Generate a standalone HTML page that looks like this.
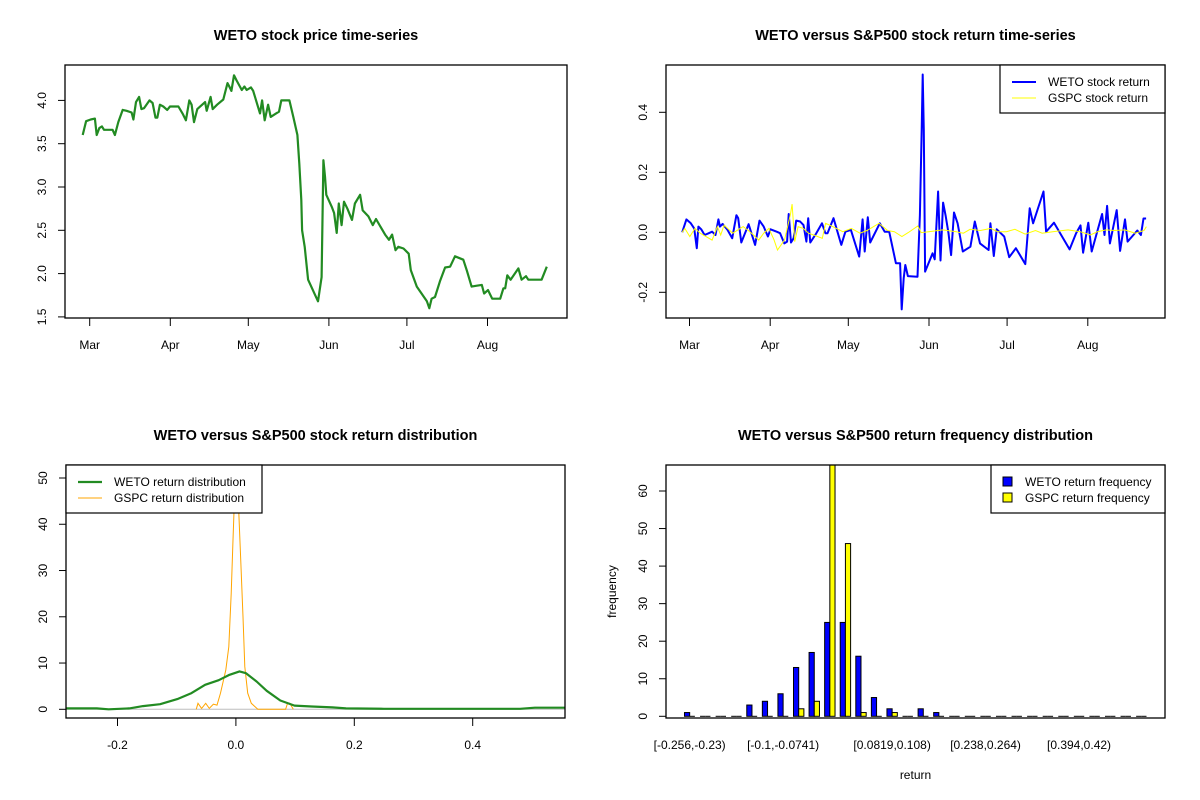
<!DOCTYPE html>
<html><head><meta charset="utf-8"><style>
html,body{margin:0;padding:0;background:#fff;}
svg{display:block;font-family:"Liberation Sans",Arial,sans-serif;}
</style></head><body>
<svg id="c" width="1200" height="800" xmlns="http://www.w3.org/2000/svg">
<rect x="0" y="0" width="1200" height="800" fill="#fff"/>
</svg>
<script>
// ---- data: price series (day offset from Mar 1) ----
const priceDays=[-2.7,-1.4,0.4,2,2.7,3.7,4.7,5.5,8.8,9.7,11,12.7,14.2,16.1,16.8,17.8,19,19.9,20.9,23,24.2,25.3,26,27,28.3,29.8,30.9,34.1,35.7,37,38.3,39.2,40.1,41.4,44.4,45,46.5,47.3,49,51.4,53,53.7,54.5,55.5,56.5,58.5,59.5,60.4,62,62.9,65.5,66.3,67.3,68.6,69.6,71.7,72.8,73.7,76.8,78.3,79.9,80.6,81.4,81.7,82.7,84,87.8,89.2,89.9,90.5,91,93.1,94,95,95.8,96.9,97.8,99.1,100.9,102,104,105,107.2,108.9,110.1,113.6,115.1,116.3,117.6,118.7,120.7,122.7,123.5,125.8,129.7,130.6,131.5,132.8,134.7,136.7,138.6,140.5,143.7,145,146.9,148.9,150.8,151.7,153.2,154.8,157.9,159.1,159.8,160.6,161.9,164.9,166.1,167.8,168.7,173.8,175.8];
const priceVals=[3.60,3.76,3.78,3.79,3.60,3.68,3.70,3.66,3.66,3.60,3.75,3.89,3.88,3.86,3.78,3.98,4.04,3.90,3.91,4.00,3.97,3.80,3.80,3.95,3.93,3.89,3.93,3.93,3.85,3.77,4.00,3.95,3.75,3.90,3.98,3.88,4.04,3.90,3.95,4.01,4.20,4.16,4.11,4.29,4.23,4.12,4.16,4.12,4.15,4.11,3.85,4.00,3.77,3.95,3.81,3.85,3.87,4.00,4.00,3.81,3.60,3.27,2.85,2.50,2.31,1.93,1.68,1.96,3.31,3.12,2.91,2.77,2.70,2.47,2.81,2.56,2.83,2.75,2.62,2.81,2.91,2.73,2.66,2.56,2.63,2.45,2.39,2.45,2.27,2.31,2.29,2.23,2.04,1.85,1.68,1.60,1.71,1.73,1.91,2.07,2.08,2.20,2.16,2.04,1.85,1.86,1.87,1.77,1.81,1.71,1.71,1.83,1.83,1.98,1.93,2.06,1.93,1.97,1.93,1.93,2.08];
// ---- data: returns ----
const retDays=[-2.8,-1.2,0.5,1.8,2.8,3.4,4.5,5.8,7.4,8.7,10,11.1,11.7,12.7,14.6,16.4,18,18.7,19.9,22.7,25.2,26.9,28.5,30.1,31.1,33.5,34.8,36.4,37.5,38.1,39,40,41,42.5,43.8,44.9,45.6,46.4,48.5,50.9,52.2,53,55.3,58.3,59.9,62,65.2,66.5,67.3,68.5,69.4,73.1,75,76.7,79.3,80.9,81.5,82.3,82.9,83.9,87.6,88.5,89.2,89.6,90,90.5,93.4,94.2,95.5,96.4,97.4,98.4,99.5,100.5,101.6,103,105,107.9,109.6,111.6,114.9,115.6,116.9,118,120.9,122.8,125.4,129,130.7,132,136,137,140,146,148.5,150.2,151.2,153.2,154.5,158.5,159.4,160.4,161.5,164.1,165.4,167.3,168.3,172,173.4,174.4,175.4];
const wetoRet=[0,0.043,0.03,0.013,-0.053,0.019,0.01,-0.009,-0.003,0.002,-0.009,0.043,0.019,0.028,0.008,-0.02,0.057,0.047,-0.034,0.027,-0.042,0.039,0.019,-0.014,0.01,0.002,-0.003,-0.037,-0.031,0.061,-0.034,-0.02,0.039,0.036,0.024,-0.031,0.047,-0.034,-0.006,0.03,-0.003,-0.003,0.047,-0.042,0.002,0.008,-0.081,0.043,-0.064,0.05,-0.034,0.03,0.002,0.002,-0.103,-0.103,-0.257,-0.153,-0.109,-0.146,-0.148,0.058,0.343,0.526,0.341,-0.131,-0.07,-0.09,0.136,-0.094,0.099,0.054,-0.003,-0.076,0.066,0.03,-0.064,-0.048,0.036,-0.037,-0.059,0.03,-0.079,0.01,-0.014,-0.083,-0.053,-0.106,0.08,0.03,0.136,0.002,0.032,-0.057,-0.003,0.023,-0.068,0.032,-0.064,0.061,-0.009,0.088,-0.037,0.074,-0.062,0.043,-0.031,0.006,-0.009,0.046,0.046];
const gspcDays=[-2.8,-1.8,0.1,2.1,4.1,8.7,10.7,12,13.3,16.6,20.6,22.6,24.6,26.6,28.5,30.5,32.5,33.8,36.5,38.8,39.4,40.4,41.7,43.7,45.7,47.7,51,52.3,55,58.9,62.2,65.5,68.2,72.8,76.1,78.7,81.6,84,87.7,89,91.9,97.2,102.5,105.2,107.8,111.8,115.7,118.4,121.7,125,128.9,132.9,135.5,139.5,145.4,150.1,154,156.7,160,163.3,167.2,171.2,174.6,175.5];
const gspcRet=[0,0.013,-0.014,0.013,-0.003,-0.026,0.019,-0.009,0.024,-0.003,0.019,0.006,-0.009,-0.026,-0.003,0.013,-0.026,-0.059,-0.026,0.061,0.094,-0.031,0.019,0.013,-0.003,-0.009,-0.02,0.03,0.019,0.002,0.013,-0.003,0.006,0.03,0.006,0.002,-0.014,-0.001,0.021,-0.001,0.002,0.008,0.002,-0.003,0.01,0.006,0.013,0.002,0.002,0.01,-0.006,0.006,-0.003,0.002,0.008,0.002,-0.009,0.002,0.008,0.006,0.008,-0.003,0.006,0.019];
// ---- data: densities ----
const wetoDensX=[-0.287,-0.281,-0.235,-0.215,-0.18,-0.157,-0.128,-0.099,-0.075,-0.052,-0.029,-0.012,0.006,0.017,0.035,0.052,0.075,0.099,0.128,0.163,0.186,0.25,0.48,0.505,0.556];
const wetoDensY=[0.2,0.2,0.2,0,0.2,0.7,1.1,2.2,3.5,5.3,6.3,7.4,8.2,7.8,6.0,4.0,1.9,0.8,0.6,0.4,0.2,0.1,0.1,0.35,0.35];
const gspcDensX=[-0.067,-0.064,-0.058,-0.051,-0.045,-0.038,-0.032,-0.026,-0.017,-0.012,-0.008,-0.005,-0.002,0,0.003,0.005,0.008,0.012,0.015,0.02,0.026,0.032,0.037,0.084,0.087,0.091,0.097];
const gspcDensY=[0,1.3,0.2,1.3,0.2,1.1,0.9,3.5,8.5,13.5,25,36,47,56,56,42,33,20,9.2,3.5,1.3,0.6,0,0,1.2,1.3,0];
// ---- data: histogram ----
const binLabels=["[-0.256,-0.23)","[-0.1,-0.0741)","[0.0819,0.108)","[0.238,0.264)","[0.394,0.42)"];
const binLabelIdx=[0,6,13,19,25];
const wetoFreq=[1,0,0,0,3,4,6,13,17,25,25,16,5,2,0,2,1,0,0,0,0,0,0,0,0,0,0,0,0,0];
const gspcFreq=[0,0,0,0,0,0,0,2,4,70,46,1,0,1,0,0,0,0,0,0,0,0,0,0,0,0,0,0,0,0];
// ---- ticks ----
const monthNames=["Mar","Apr","May","Jun","Jul","Aug"];
const monthDays=[0,31,61,92,122,153];
const priceTicks=[1.5,2.0,2.5,3.0,3.5,4.0];
const retTicks=[-0.2,0.0,0.2,0.4];
const densXTicks=[-0.2,0.0,0.2,0.4];
const densYTicks=[0,10,20,30,40,50];
const freqTicks=[0,10,20,30,40,50,60];

const svg=document.getElementById('c');
const NS='http://www.w3.org/2000/svg';
function mk(tag,a,parent){const e=document.createElementNS(NS,tag);for(const k in a)e.setAttribute(k,a[k]);(parent||svg).appendChild(e);return e;}
function lin(d0,d1,r0,r1){return v=>r0+(v-d0)*(r1-r0)/(d1-d0);}
function fmt(v){return v.toFixed(1);}

function panel(p){
  const g=mk('g',{});
  
  
  const t=mk('text',{x:(p.x0+p.x1)/2,y:p.ty,'text-anchor':'middle','font-size':'14.5','font-weight':'bold',fill:'#000'},g);
  t.textContent=p.title;
  
  
  return g;
}
function frame(g,x0,y0,x1,y1){
  const r=mk('rect',{x:x0,y:y0,width:x1-x0,height:y1-y0,fill:'none',stroke:'#000','stroke-width':1.3},g);
  
  
}
function yAxis(g,ticks,sy,x0,labelFn){
  ticks.forEach(v=>{
    const y=sy(v);
    const l=mk('line',{x1:x0-7,x2:x0,y1:y,y2:y,stroke:'#000'},g);
    
    
    const t=mk('text',{x:0,y:0,transform:`translate(${x0-19},${y}) rotate(-90)`,'text-anchor':'middle','font-size':'12',fill:'#000'},g);
    t.textContent=labelFn(v);
    
    
  });
}
function xAxis(g,pos,labels,y1){
  pos.forEach((x,i)=>{
    const l=mk('line',{x1:x,x2:x,y1:y1,y2:y1+8,stroke:'#000'},g);
    
    
    const t=mk('text',{x:x,y:y1+31,'text-anchor':'middle','font-size':'12',fill:'#000'},g);
    t.textContent=labels[i];
    
    
  });
}
function clip(id,x0,y0,x1,y1){const c=mk('clipPath',{id:id});mk('rect',{x:x0,y:y0,width:x1-x0,height:y1-y0},c);}
function poly(g,xs,ys,sx,sy,attrs,name,cl){
  const pts=xs.map((x,i)=>sx(x).toFixed(1)+','+sy(ys[i]).toFixed(1)).join(' ');
  const a=Object.assign({points:pts,fill:'none'},attrs);
  if(cl)a['clip-path']=`url(#${cl})`;
  const p=mk('polyline',a,g);
  
  
}
function legend(g,x0,y0,x1,y1,items){
  const r=mk('rect',{x:x0,y:y0,width:x1-x0,height:y1-y0,fill:'#fff',stroke:'#000','stroke-width':1.2},g);
  
  
  items.forEach((it,i)=>{
    const y=y0+17+i*16;
    if(it.sq){
      const s=mk('rect',{x:x0+12,y:y-5,width:9,height:9,fill:it.color,stroke:'#000'},g);
      
      
    }else{
      const l=mk('line',{x1:x0+12,x2:x0+36,y1:y,y2:y,stroke:it.color,'stroke-width':it.w},g);
      
      
    }
    const t=mk('text',{x:x0+(it.sq?34:48),y:y+4,'font-size':'12',fill:'#000'},g);
    t.textContent=it.label;
    
    
  });
}

// ---- Panel 1: price ----
(function(){
  const x0=65,x1=567,y0=65,y1=318;
  const g=panel({name:'price-chart',title:'WETO stock price time-series',x0,x1,ty:40});
  const sx=lin(0,31,89.7,170.3), sy=lin(1.5,4.0,316.9,100.4);
  clip('c1',x0,y0,x1,y1);
  poly(g,priceDays,priceVals,sx,sy,{stroke:'#228B22','stroke-width':2.2,'stroke-linejoin':'round'},'price-line','c1');
  frame(g,x0,y0,x1,y1);
  yAxis(g,priceTicks,sy,x0,fmt);
  xAxis(g,monthDays.map(sx),monthNames,y1);
})();

// ---- Panel 2: returns ----
(function(){
  const x0=666,x1=1165,y0=65,y1=318;
  const g=panel({name:'return-chart',title:'WETO versus S&P500 stock return time-series',x0,x1,ty:40});
  const sx=lin(0,31,689.5,770.2), sy=lin(0,0.2,232.3,172.3);
  clip('c2',x0,y0,x1,y1);
  poly(g,retDays,wetoRet,sx,sy,{stroke:'#0000FF','stroke-width':2,'stroke-linejoin':'round'},'weto-return-line','c2');
  poly(g,gspcDays,gspcRet,sx,sy,{stroke:'#FFFF00','stroke-width':1},'gspc-return-line','c2');
  frame(g,x0,y0,x1,y1);
  yAxis(g,retTicks,sy,x0,fmt);
  xAxis(g,monthDays.map(sx),monthNames,y1);
  legend(g,1000,65,1165,113,[{label:'WETO stock return',color:'#0000FF',w:2},{label:'GSPC stock return',color:'#FFFF00',w:1}]);
})();

// ---- Panel 3: density ----
(function(){
  const x0=66,x1=565,y0=465,y1=718;
  const g=panel({name:'density-chart',title:'WETO versus S&P500 stock return distribution',x0,x1,ty:440});
  const sx=lin(0,0.2,235.9,354.3), sy=lin(0,50,709.3,478);
  clip('c3',x0,y0,x1,y1);
  const z=mk('line',{x1:x0,x2:x1,y1:sy(0),y2:sy(0),stroke:'#bebebe'},g);
  
  
  poly(g,gspcDensX,gspcDensY,sx,sy,{stroke:'#FFA500','stroke-width':1},'gspc-density-line','c3');
  poly(g,wetoDensX,wetoDensY,sx,sy,{stroke:'#228B22','stroke-width':2.2,'stroke-linejoin':'round'},'weto-density-line','c3');
  frame(g,x0,y0,x1,y1);
  yAxis(g,densYTicks,sy,x0,v=>String(v));
  xAxis(g,densXTicks.map(sx),densXTicks.map(fmt),y1);
  legend(g,66,465,262,513,[{label:'WETO return distribution',color:'#228B22',w:2.2},{label:'GSPC return distribution',color:'#FFA500',w:1}]);
})();

// ---- Panel 4: histogram ----
(function(){
  const x0=666,x1=1165,y0=465,y1=718;
  const g=panel({name:'frequency-chart',title:'WETO versus S&P500 return frequency distribution',x0,x1,ty:440});
  const n=wetoFreq.length, lo=1-0.04*(3*n-1), hi=3*n+0.04*(3*n-1);
  const sx=lin(lo,hi,x0,x1), sy=lin(0,60,716.3,491);
  clip('c4',x0,y0,x1,y1);
  const bw=sx(1)-sx(0);
  function bar(u,v,color,name){
    if(v>0){
      const r=mk('rect',{x:sx(u),y:sy(v),width:bw,height:sy(0)-sy(v),fill:color,stroke:'#000','stroke-width':1,'clip-path':'url(#c4)'},g);
      
      
    }else{
      const l=mk('line',{x1:sx(u),x2:sx(u)+bw,y1:sy(0),y2:sy(0),stroke:'#000'},g);
      
      
    }
  }
  for(let i=0;i<n;i++){bar(3*i+1,wetoFreq[i],'#0000FF','weto-bar');bar(3*i+2,gspcFreq[i],'#FFFF00','gspc-bar');}
  frame(g,x0,y0,x1,y1);
  yAxis(g,freqTicks,sy,x0,v=>String(v));
  binLabelIdx.forEach((k,i)=>{
    const t=mk('text',{x:sx(3*k+2),y:y1+31,'text-anchor':'middle','font-size':'12',fill:'#000'},g);
    t.textContent=binLabels[i];
    
    
  });
  const xl=mk('text',{x:(x0+x1)/2,y:779,'text-anchor':'middle','font-size':'12',fill:'#000'},g);
  xl.textContent='return';
  
  
  const yl=mk('text',{x:0,y:0,transform:`translate(616,${(y0+y1)/2}) rotate(-90)`,'text-anchor':'middle','font-size':'12',fill:'#000'},g);
  yl.textContent='frequency';
  
  
  legend(g,991,465,1165,513,[{label:'WETO return frequency',color:'#0000FF',sq:true},{label:'GSPC return frequency',color:'#FFFF00',sq:true}]);
})();
</script>
</body></html>
